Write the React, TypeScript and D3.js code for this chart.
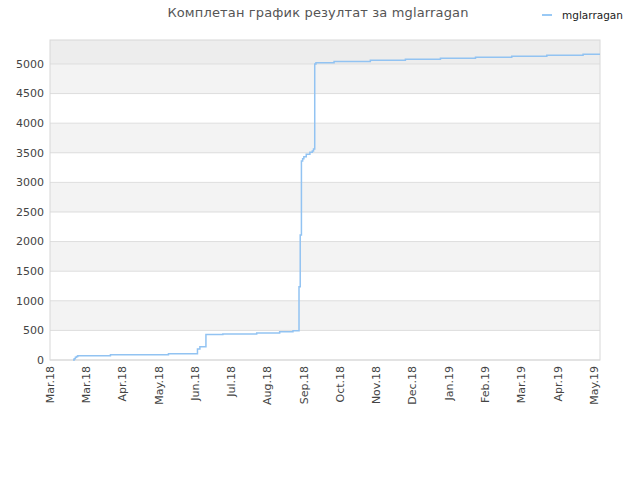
import React from "react";
import * as d3 from "d3";

const title = "Комплетан график резултат за mglarragan";
const seriesName = "mglarragan";
const startDate = new Date(2018, 2, 1);
const totalDays = 455;
const labelEveryDays = 30;
const yTicks = [0, 500, 1000, 1500, 2000, 2500, 3000, 3500, 4000, 4500, 5000];
const yMax = 5405;

// day index since start, cumulative score (step changes)
const stepDays = [0, 19, 20, 21, 22, 23, 50, 98, 122, 124, 129, 143, 171, 190, 201, 206, 207, 208, 209, 210, 212, 215, 217, 218, 219, 220, 235, 265, 294, 323, 352, 382, 411, 441, 455];
const stepValues = [0, 0, 20, 45, 60, 72, 90, 105, 186, 225, 430, 440, 456, 478, 495, 1238, 2111, 3361, 3400, 3434, 3475, 3508, 3530, 3564, 5000, 5022, 5040, 5062, 5080, 5096, 5113, 5130, 5147, 5164, 5164];

export default function App() {
  const W = 640, H = 480;
  const L = 50, R = 600, T = 40, B = 360;
  const x = d3.scaleLinear().domain([0, totalDays]).range([L, R]);
  const y = d3.scaleLinear().domain([0, yMax]).range([B, T]);
  const firstIdx = stepDays.findIndex((d, i) => stepValues[i] > 0) - 1;
  const pts = stepDays.map((d, i) => [d, stepValues[i]] as [number, number]).slice(firstIdx);
  const line = d3.line<[number, number]>().x(d => x(d[0])).y(d => y(d[1])).curve(d3.curveStepAfter);
  const fmt = d3.timeFormat("%b.%y");
  const labels = d3.range(0, totalDays, labelEveryDays).map(d => ({ d, text: fmt(d3.timeDay.offset(startDate, d)) }));
  const bands = yTicks.slice(0, -1).map((v, i) => ({ v0: v, v1: yTicks[i + 1], fill: i % 2 === 1 ? "#f3f3f3" : "#ffffff" }));
  const font = "DejaVu Sans, sans-serif";
  return (
    <svg width={W} height={H} style={{ position: "absolute", left: 0, top: 0, background: "#fff" }}>
      <text x={318} y={17} textAnchor="middle" fontFamily={font} fontSize={13} fill="#555" letterSpacing={0.15}>{title}</text>
      <line x1={542} x2={552} y1={15} y2={15} stroke="#99c9f5" strokeWidth={2} />
      <text x={562} y={19} fontFamily={font} fontSize={10.5} fill="#222">{seriesName}</text>
      {bands.map((b, i) => (
        <rect key={i} x={L} width={R - L} y={y(b.v1)} height={y(b.v0) - y(b.v1)} fill={b.fill} />
      ))}
      <rect x={L} width={R - L} y={T} height={y(5000) - T} fill="#ededed" />
      {yTicks.map(v => (
        <g key={v}>
          <line x1={L} x2={R} y1={y(v)} y2={y(v)} stroke="#dddddd" strokeWidth={1} />
          <text x={44} y={y(v)} dy="0.35em" textAnchor="end" fontFamily={font} fontSize={11} fill="#444">{v}</text>
        </g>
      ))}
      <rect x={L} y={T} width={R - L} height={B - T} fill="none" stroke="#d8d8d8" strokeWidth={1} />
      <path d={line(pts) || ""} fill="none" stroke="#92c3f2" strokeWidth={1.5} />
      {labels.map(l => (
        <text key={l.d} transform={`translate(${x(l.d)},${B + 6}) rotate(-90)`} dy="0.35em" textAnchor="end" fontFamily={font} fontSize={11} fill="#444">{l.text}</text>
      ))}
    </svg>
  );
}
